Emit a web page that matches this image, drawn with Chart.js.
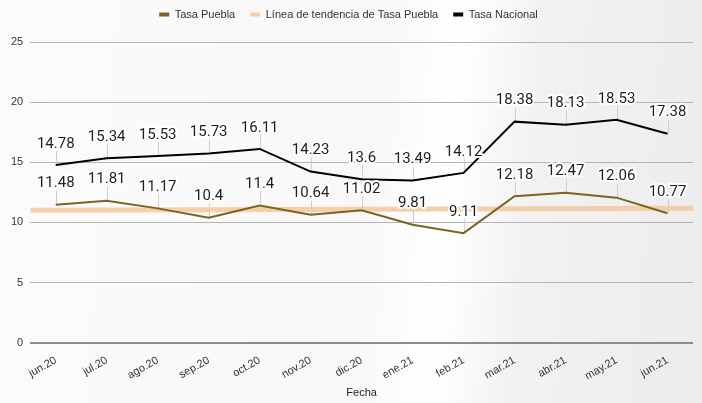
<!DOCTYPE html>
<html lang="es">
<head>
<meta charset="utf-8">
<title>Tasa Puebla vs Tasa Nacional</title>
<script src="https://cdn.jsdelivr.net/npm/chart.js@4.4.1/dist/chart.umd.min.js"></script>
<style>
    html, body {
        margin: 0;
        padding: 0;
    }
    body {
        width: 702px;
        height: 403px;
        overflow: hidden;
        background: linear-gradient(95deg, #fbfbfb 0%, #f8f8f8 52%, #ffffff 63%, #f2f2f2 74%, #ececec 100%);
    }
    canvas {
        display: block;
    }
</style>
</head>
<body>
<canvas id="tasaChart" width="702" height="403"></canvas>
<script>
const fechas = ['jun.20', 'jul.20', 'ago.20', 'sep.20', 'oct.20', 'nov.20', 'dic.20',
    'ene.21', 'feb.21', 'mar.21', 'abr.21', 'may.21', 'jun.21'];
const tasaPuebla = [11.48, 11.81, 11.17, 10.4, 11.4, 10.64, 11.02, 9.81, 9.11, 12.18, 12.47, 12.06, 10.77];
const tasaNacional = [14.78, 15.34, 15.53, 15.73, 16.11, 14.23, 13.6, 13.49, 14.12, 18.38, 18.13, 18.53, 17.38];
// trend line runs edge to edge of the plot (x = -0.5 .. 12.5)
const tendenciaX = [-0.5, 12.5];
const tendenciaY = [11.02, 11.18];
const yMax = 25;
const yPaso = 5;

const colorPuebla = '#7a6420';
const colorTendencia = 'rgba(244, 196, 150, 0.8)';
const colorNacional = '#000000';

// value labels with a white halo and a thin leader line down to the point
const etiquetasPlugin = {
    id: 'etiquetas',
    beforeDatasetsDraw(chart) {
        const ctx = chart.ctx;
        ctx.save();
        ctx.strokeStyle = '#cfcfcf';
        ctx.lineWidth = 1;
        chart.data.datasets.forEach((ds, i) => {
            if (!ds.conEtiquetas) return;
            chart.getDatasetMeta(i).data.forEach(pt => {
                const x = Math.round(pt.x) + 0.5;
                ctx.beginPath();
                ctx.moveTo(x, pt.y - 14);
                ctx.lineTo(x, pt.y);
                ctx.stroke();
            });
        });
        ctx.restore();
    },
    afterDatasetsDraw(chart) {
        const ctx = chart.ctx;
        ctx.save();
        ctx.font = '15px Roboto';
        ctx.textAlign = 'center';
        ctx.textBaseline = 'middle';
        ctx.lineJoin = 'round';
        chart.data.datasets.forEach((ds, i) => {
            if (!ds.conEtiquetas) return;
            chart.getDatasetMeta(i).data.forEach((pt, j) => {
                const texto = String(ds.data[j]);
                const y = pt.y - 21;
                ctx.strokeStyle = 'rgba(255,255,255,0.95)';
                ctx.lineWidth = 4;
                ctx.strokeText(texto, pt.x, y);
                ctx.fillStyle = '#1e1e1e';
                ctx.fillText(texto, pt.x, y);
            });
        });
        ctx.restore();
    }
};

// pull the legend row up close to the top edge
const leyendaPlugin = {
    id: 'leyendaPos',
    afterLayout(chart) {
        chart.legend.top -= 12;
    }
};

const ctx = document.getElementById('tasaChart').getContext('2d');
const tasaChart = new Chart(ctx, {
    type: 'line',
    data: {
        labels: fechas,
        datasets: [{
            label: 'Tasa Puebla',
            data: tasaPuebla,
            borderColor: colorPuebla,
            backgroundColor: colorPuebla,
            borderWidth: 2,
            pointRadius: 0,
            tension: 0,
            order: 1,
            conEtiquetas: true
        }, {
            label: 'Línea de tendencia de Tasa Puebla',
            data: tendenciaX.map((x, k) => ({ x: x, y: tendenciaY[k] })),
            xAxisID: 'xt',
            borderColor: colorTendencia,
            backgroundColor: colorTendencia,
            borderWidth: 5,
            pointRadius: 0,
            order: 3
        }, {
            label: 'Tasa Nacional',
            data: tasaNacional,
            borderColor: colorNacional,
            backgroundColor: colorNacional,
            borderWidth: 2,
            pointRadius: 0,
            tension: 0,
            order: 1,
            conEtiquetas: true
        }]
    },
    options: {
        responsive: false,
        animation: false,
        layout: {
            padding: { left: 4, right: 9, top: 6, bottom: 3 }
        },
        scales: {
            x: {
                type: 'category',
                offset: true,
                grid: { display: false },
                border: { display: false },
                ticks: {
                    color: '#333',
                    font: { family: 'Liberation Sans', size: 11 },
                    minRotation: 30,
                    maxRotation: 30,
                    padding: 3
                },
                title: {
                    display: true,
                    text: 'Fecha',
                    color: '#222',
                    font: { family: 'Liberation Sans', size: 11 },
                    padding: { top: 1, bottom: 0 }
                }
            },
            xt: {
                type: 'linear',
                display: false,
                min: tendenciaX[0],
                max: tendenciaX[1]
            },
            y: {
                min: 0,
                max: yMax,
                border: { display: false },
                grid: {
                    drawTicks: false,
                    color: c => c.tick && c.tick.value === 0 ? '#8c8c8c' : '#b4b4b4',
                    lineWidth: c => c.tick && c.tick.value === 0 ? 2 : 1
                },
                ticks: {
                    stepSize: yPaso,
                    color: '#333',
                    font: { family: 'Liberation Sans', size: 11 },
                    padding: 7
                }
            }
        },
        plugins: {
            legend: {
                position: 'top',
                labels: {
                    color: '#333',
                    font: { family: 'Liberation Sans', size: 11 },
                    boxWidth: 10,
                    boxHeight: 4,
                    padding: 15,
                    sort: (a, b) => a.datasetIndex - b.datasetIndex,
                    generateLabels(chart) {
                        return Chart.defaults.plugins.legend.labels.generateLabels(chart).map(item => {
                            item.fillStyle = item.strokeStyle;
                            item.lineWidth = 0;
                            return item;
                        });
                    }
                }
            },
            tooltip: { enabled: false }
        }
    },
    plugins: [etiquetasPlugin, leyendaPlugin]
});
</script>
</body>
</html>
